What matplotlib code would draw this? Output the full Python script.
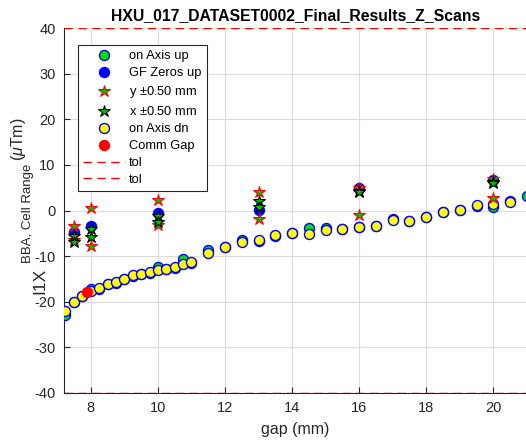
import matplotlib.pyplot as plt
import numpy as np

plt.rcParams['font.family'] = ['Liberation Sans', 'DejaVu Sans']
plt.rcParams['mathtext.fontset'] = 'custom'
plt.rcParams['mathtext.rm'] = 'Liberation Sans'
plt.rcParams['mathtext.it'] = 'Liberation Sans:italic'
plt.rcParams['axes.unicode_minus'] = False

# gap scan, on-axis field integral
gap_up = [7.22, 7.5, 7.75, 8.0, 8.25, 8.5, 8.75, 9.0, 9.25, 9.5, 9.75, 10.0,
          10.25, 10.5, 10.75, 11.0, 11.5, 12.0, 12.5, 13.0, 13.5, 14.0, 14.5,
          15.0, 15.5, 16.0, 16.5, 17.0, 17.5, 18.0, 18.5, 19.0, 19.5, 20.0,
          20.5, 21.0]
i1x_up = [-22.9, -20.1, -18.8, -17.1, -17.1, -16.0, -15.8, -15.0, -14.3, -13.9,
          -13.6, -12.3, -12.9, -12.5, -10.6, -11.4, -8.7, -8.0, -6.5, -6.6,
          -5.5, -5.0, -3.9, -3.8, -4.0, -3.6, -3.4, -1.8, -2.2, -1.5, -0.4,
          0.1, 1.1, 0.8, 2.15, 3.2]

gap_dn = [7.22, 7.5, 7.75, 8.0, 8.25, 8.5, 8.75, 9.0, 9.25, 9.5, 9.75, 10.0,
          10.25, 10.5, 10.75, 11.0, 11.5, 12.0, 12.5, 13.0, 13.5, 14.0, 14.5,
          15.0, 15.5, 16.0, 16.5, 17.0, 17.5, 18.0, 18.5, 19.0, 19.5, 20.0,
          20.5]
i1x_dn = [-22.0, -20.05, -18.7, -17.6, -17.06, -16.0, -15.7, -15.0, -14.2,
          -13.9, -13.5, -13.1, -12.9, -12.4, -11.65, -11.36, -9.4, -7.9, -6.8,
          -6.5, -5.4, -4.9, -5.1, -4.35, -4.0, -3.55, -3.4, -2.15, -2.2, -1.42,
          -0.4, 0.1, 1.13, 1.5, 1.8]

# GF zeros and +/- offsets
gap_gf = [7.5, 8.0, 10.0, 13.0, 16.0, 20.0]
i1x_gf = [-4.6, -3.3, -0.5, 0.1, 4.9, 6.8]
i1x_y_plus = [-3.4, 0.6, 2.4, 4.1, 5.0, 7.0]
i1x_y_minus = [-6.5, -7.8, -3.2, -1.9, -1.0, 2.8]
i1x_x_plus = [-5.5, -4.1, -1.2, 2.0, 4.3, 6.3]
i1x_x_minus = [-7.0, -5.9, -2.6, 0.8, 4.0, 6.0]

gap_comm = [7.89]
i1x_comm = [-17.9]

tol = 40

fig = plt.figure(figsize=(5.26, 4.45), dpi=100)
ax = fig.add_axes([0.1217, 0.1169, 0.880, 0.820])

ms = 7.2
ax.plot(gap_up, i1x_up, 'o', ms=ms, mfc='#00e000', mec='blue', mew=1,
        label='on Axis up', zorder=3)
ax.plot(gap_gf, i1x_gf, 'o', ms=ms, mfc='blue', mec='blue', mew=1,
        label='GF Zeros up', zorder=3)
ax.plot(gap_gf + gap_gf, i1x_y_plus + i1x_y_minus, '*', ms=9,
        mfc='#00c000', mec='red', mew=0.8, ls='none',
        label='y $\\pm$0.50 mm', zorder=4)
ax.plot(gap_gf + gap_gf, i1x_x_plus + i1x_x_minus, '*', ms=9,
        mfc='#00c000', mec='black', mew=0.8, ls='none',
        label='x $\\pm$0.50 mm', zorder=4)
ax.plot(gap_dn, i1x_dn, 'o', ms=ms, mfc='yellow', mec='blue', mew=1,
        label='on Axis dn', zorder=3)
ax.plot(gap_comm, i1x_comm, 'o', ms=ms, mfc='red', mec='red', mew=1,
        label='Comm Gap', zorder=5)
ax.axhline(tol, color='red', ls=(0, (6, 4)), lw=1, label='tol', zorder=2)
ax.axhline(-tol, color='red', ls=(0, (6, 4)), lw=1, label='tol', zorder=2)

ax.set_xlim(7.2, 21.0)
ax.set_ylim(-40, 40)
ax.set_xticks(np.arange(8, 21, 2))
ax.set_yticks(np.arange(-40, 41, 10))
ax.grid(True, color='#dcdcdc', lw=0.8)
ax.set_axisbelow(True)
for s in ['top', 'right']:
    ax.spines[s].set_visible(False)
for s in ['left', 'bottom']:
    ax.spines[s].set_color('#262626')
ax.tick_params(direction='in', length=4, colors='#262626', labelsize=10.5,
               pad=6)

ax.set_xlabel('gap (mm)', fontsize=11.5, color='#262626', labelpad=5)

# y label in three pieces: symbol, subscript, units
ylab = dict(rotation=90, rotation_mode='anchor', ha='left', va='baseline',
            transform=ax.transAxes, color='#262626', clip_on=False)
ax.text(-0.0433, 0.272, 'I1X', fontsize=12.5, **ylab)
ax.text(-0.072, 0.356, 'BBA, Cell Range', fontsize=9.5, **ylab)
ax.text(-0.0886, 0.636, r'($\mu$Tm)', fontsize=11.5, **ylab)

ax.set_title('HXU_017_DATASET0002_Final_Results_Z_Scans', fontsize=11.3,
             fontweight='bold', pad=6)

leg = ax.legend(loc='upper left', bbox_to_anchor=(0.0303, 0.953),
                borderaxespad=0, fancybox=False, edgecolor='#262626',
                fontsize=9.3, handlelength=3.25, handletextpad=0.3,
                labelspacing=0.38, borderpad=0.4, framealpha=1)
leg.get_frame().set_linewidth(0.8)

fig.savefig('out.png', dpi=100)
